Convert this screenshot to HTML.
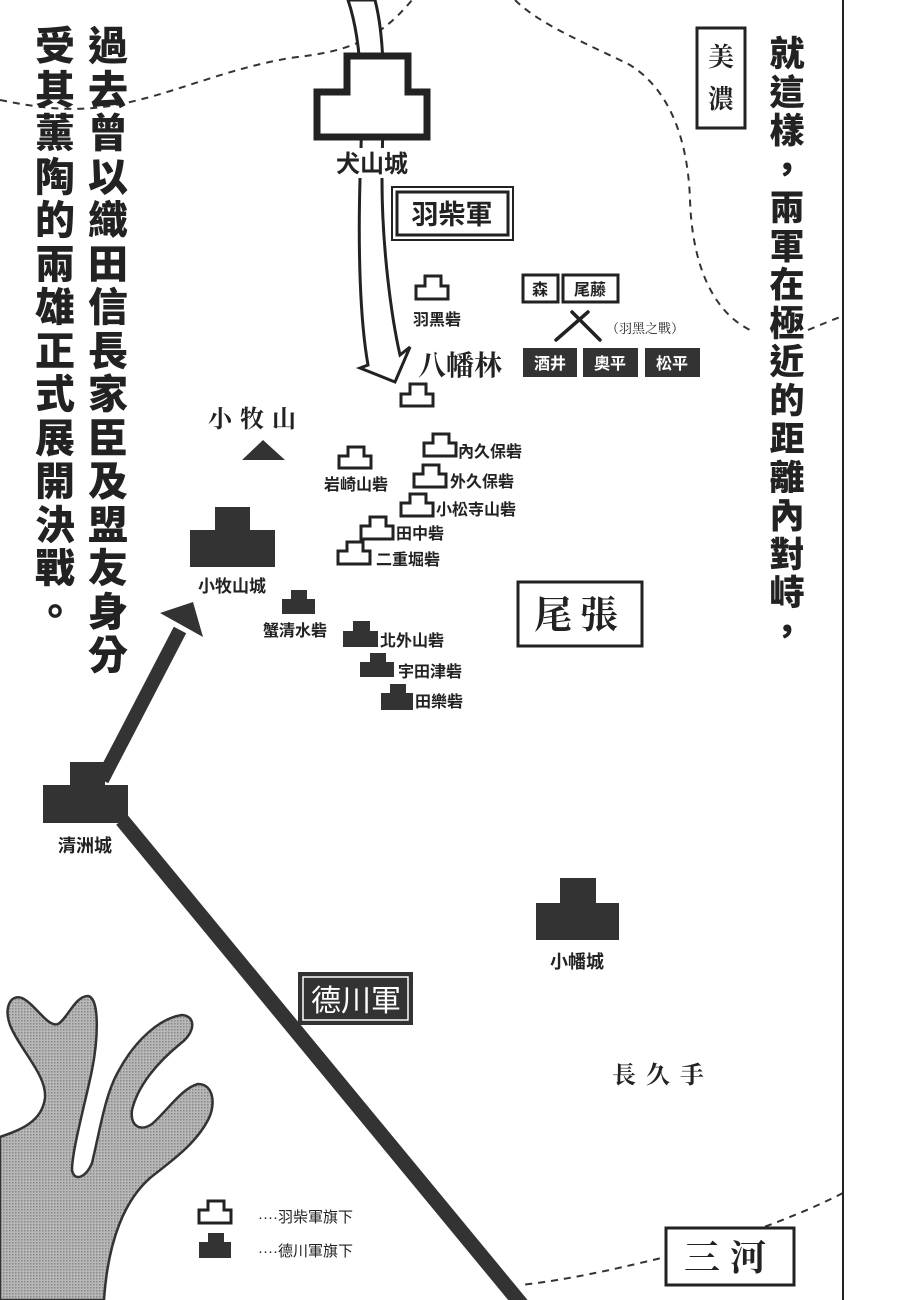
<!DOCTYPE html>
<html><head><meta charset="utf-8">
<style>
html,body{margin:0;padding:0;background:#fff;}
body{width:914px;height:1300px;overflow:hidden;position:relative;}
svg{position:absolute;left:0;top:0;}
.s{font-family:"Liberation Sans","Noto Sans CJK TC","Noto Sans CJK SC",sans-serif;font-weight:bold;fill:#222;}
.r{font-family:"Liberation Serif","Noto Serif CJK SC",serif;fill:#222;}
.vt{position:absolute;font-family:"Liberation Sans","Noto Sans CJK TC",sans-serif;font-weight:900;color:#222;text-align:center;}
.vt span{display:block;}
</style></head><body>
<svg width="914" height="1300" viewBox="0 0 914 1300">
<defs>
<pattern id="dots" width="3" height="3" patternUnits="userSpaceOnUse">
<rect width="3" height="3" fill="#b8b8b8"/><rect width="1.5" height="1.5" fill="#888"/>
</pattern>
</defs>
<g fill="none" stroke="#333" stroke-width="2" stroke-dasharray="7,6">
<path d="M0,100 C40,108 70,112 110,106 C170,96 220,70 290,58 C340,52 375,45 412,0"/>
<path d="M515,0 C540,25 590,45 630,65 C670,90 688,140 690,200 C692,260 710,310 750,330"/>
<path d="M808,330 C820,325 832,320 843,316"/>
<path d="M843,1193 C790,1220 720,1245 640,1263 C590,1275 550,1282 520,1285"/>
</g>
<line x1="843" y1="0" x2="843" y2="1300" stroke="#222" stroke-width="2"/>
<path d="M0,1137 C20,1130 42,1122 45,1098 C47,1075 20,1050 10,1025 C4,1008 10,994 22,998 C35,1004 48,1028 58,1024 C68,1018 75,996 88,996 C100,998 98,1040 92,1070 C86,1100 72,1150 72,1170 C74,1182 86,1178 92,1163 C100,1130 105,1095 118,1072 C135,1040 160,1018 182,1015 C196,1016 196,1032 180,1044 C158,1062 138,1085 132,1110 C130,1126 140,1132 152,1124 C168,1110 182,1088 198,1084 C214,1084 216,1105 208,1120 C195,1145 170,1162 150,1178 C125,1200 108,1240 104,1300 L0,1300 Z" fill="url(#dots)" stroke="#333" stroke-width="2.5"/>
<line x1="122" y1="820" x2="522" y2="1305" stroke="#333" stroke-width="15"/>
<line x1="102" y1="780" x2="180" y2="630" stroke="#333" stroke-width="14"/>
<polygon points="193,602 160,613 203,637" fill="#333"/>
<path d="M348,0 C365,50 362,120 360,180 C358,250 360,320 368,365 L360,368 L395,382 L410,347 L400,355 C392,320 382,250 382,180 C382,120 388,50 375,0 Z" fill="#fff" stroke="#222" stroke-width="3"/>
<path d="M347,56 L408,56 L408,92 L427,92 L427,137 L317,137 L317,92 L347,92 Z" fill="#fff" stroke="#222" stroke-width="7"/>
<rect x="336" y="148" width="72" height="30" fill="#fff"/>
<text x="372" y="172" class="s" font-size="24" text-anchor="middle">犬山城</text>
<rect x="392" y="187" width="121" height="53" fill="#fff" stroke="#222" stroke-width="2"/>
<rect x="397" y="192" width="111" height="43" fill="none" stroke="#222" stroke-width="3"/>
<text x="452" y="224" class="s" font-size="27" text-anchor="middle">羽柴軍</text>
<g fill="#fff" stroke="#222" stroke-width="3">
<path d="M425,276 h16 v10 h7 v13 h-32 v-13 h9 z"/>
<path d="M410,384 h16 v10 h7 v12 h-32 v-12 h9 z"/>
<path d="M348,447 h16 v9 h7 v12 h-32 v-12 h9 z"/>
<path d="M433,434 h16 v9 h7 v13 h-32 v-13 h9 z"/>
<path d="M423,465 h16 v9 h7 v13 h-32 v-13 h9 z"/>
<path d="M410,494 h16 v9 h7 v13 h-32 v-13 h9 z"/>
<path d="M370,517 h16 v9 h7 v13 h-32 v-13 h9 z"/>
<path d="M347,542 h16 v9 h7 v13 h-32 v-13 h9 z"/>
<path d="M208,1201 h16 v9 h7 v13 h-32 v-13 h9 z"/>
</g>
<g fill="#333">
<path d="M291,590 h16 v9 h8 v15 h-33 v-15 h9 z"/>
<path d="M353,621 h17 v10 h8 v16 h-35 v-16 h10 z"/>
<path d="M370,653 h16 v9 h8 v15 h-34 v-15 h10 z"/>
<path d="M390,684 h16 v9 h7 v17 h-32 v-17 h9 z"/>
<path d="M208,1233 h16 v9 h7 v16 h-32 v-16 h9 z"/>
<path d="M215,507 h35 v23 h25 v37 h-85 v-37 h25 z"/>
<path d="M70,762 h35 v23 h23 v38 h-85 v-38 h27 z"/>
<path d="M560,878 h36 v25 h23 v37 h-83 v-37 h24 z"/>
<polygon points="263,440 242,460 285,460"/>
</g>
<g class="s" font-size="16">
<text x="437" y="325" text-anchor="middle">羽黑砦</text>
<text x="356" y="490" text-anchor="middle">岩崎山砦</text>
<text x="458" y="457">內久保砦</text>
<text x="450" y="487">外久保砦</text>
<text x="436" y="515">小松寺山砦</text>
<text x="396" y="539">田中砦</text>
<text x="376" y="565">二重堀砦</text>
<text x="232" y="592" text-anchor="middle" font-size="17">小牧山城</text>
<text x="295" y="636" text-anchor="middle">蟹清水砦</text>
<text x="380" y="646">北外山砦</text>
<text x="398" y="677">宇田津砦</text>
<text x="415" y="707">田樂砦</text>
<text x="85" y="852" text-anchor="middle" font-size="18">清洲城</text>
<text x="577" y="968" text-anchor="middle" font-size="18">小幡城</text>
</g>
<g class="r" font-size="28">
<text x="418" y="375" font-weight="bold">八幡林</text>
<text x="208" y="427" font-size="24" letter-spacing="8" font-weight="bold">小牧山</text>
<text x="612" y="1083" font-size="24" letter-spacing="10" font-weight="bold">長久手</text>
</g>
<rect x="523" y="275" width="35" height="27" fill="#fff" stroke="#222" stroke-width="3"/>
<rect x="563" y="275" width="55" height="27" fill="#fff" stroke="#222" stroke-width="3"/>
<text x="540" y="295" class="s" font-size="16" text-anchor="middle">森</text>
<text x="590" y="295" class="s" font-size="16" text-anchor="middle">尾藤</text>
<g stroke="#222" stroke-width="3.5" stroke-linecap="round">
<line x1="572" y1="312" x2="600" y2="340"/>
<line x1="588" y1="312" x2="556" y2="340"/>
</g>
<text x="606" y="333" class="r" font-size="13">（羽黑之戰）</text>
<g fill="#333"><rect x="523" y="348" width="54" height="29"/><rect x="583" y="348" width="55" height="29"/><rect x="645" y="348" width="55" height="29"/></g>
<g class="s" font-size="16" style="fill:#fff" text-anchor="middle">
<text x="550" y="369">酒井</text><text x="610" y="369">奧平</text><text x="672" y="369">松平</text>
</g>
<rect x="697" y="28" width="48" height="100" fill="#fff" stroke="#222" stroke-width="3"/>
<text x="721" y="66" class="r" font-size="26" text-anchor="middle" font-weight="bold">美</text>
<text x="721" y="108" class="r" font-size="26" text-anchor="middle" font-weight="bold">濃</text>
<rect x="518" y="582" width="124" height="64" fill="#fff" stroke="#222" stroke-width="3"/>
<text x="580" y="628" class="r" font-size="38" text-anchor="middle" letter-spacing="8" font-weight="bold">尾張</text>
<rect x="666" y="1228" width="128" height="57" fill="#fff" stroke="#222" stroke-width="3"/>
<text x="730" y="1270" class="r" font-size="36" text-anchor="middle" letter-spacing="10" font-weight="bold">三河</text>
<rect x="298" y="972" width="115" height="53" fill="#333"/>
<rect x="303" y="977" width="105" height="43" fill="none" stroke="#fff" stroke-width="1.5"/>
<text x="356" y="1011" font-family="Liberation Sans,Noto Sans CJK TC,sans-serif" font-size="30" fill="#fff" text-anchor="middle">德川軍</text>
<g font-family="Liberation Sans,Noto Sans CJK TC,sans-serif" font-size="15" fill="#222">
<text x="258" y="1222">····羽柴軍旗下</text>
<text x="258" y="1256">····德川軍旗下</text>
</g>
</svg>
<div class="vt" style="left:86px;top:26px;width:44px;font-size:40px;line-height:43.5px;">
<span>過</span><span>去</span><span>曾</span><span>以</span><span>織</span><span>田</span><span>信</span><span>長</span><span>家</span><span>臣</span><span>及</span><span>盟</span><span>友</span><span>身</span><span>分</span></div>
<div class="vt" style="left:33px;top:26px;width:44px;font-size:40px;line-height:43.5px;">
<span>受</span><span>其</span><span>薰</span><span>陶</span><span>的</span><span>兩</span><span>雄</span><span>正</span><span>式</span><span>展</span><span>開</span><span>決</span><span>戰</span><span>。</span></div>
<div class="vt" style="left:768px;top:36px;width:38px;font-size:35px;line-height:38.5px;">
<span>就</span><span>這</span><span>樣</span><span>，</span><span>兩</span><span>軍</span><span>在</span><span>極</span><span>近</span><span>的</span><span>距</span><span>離</span><span>內</span><span>對</span><span>峙</span><span>，</span></div>
</body></html>
